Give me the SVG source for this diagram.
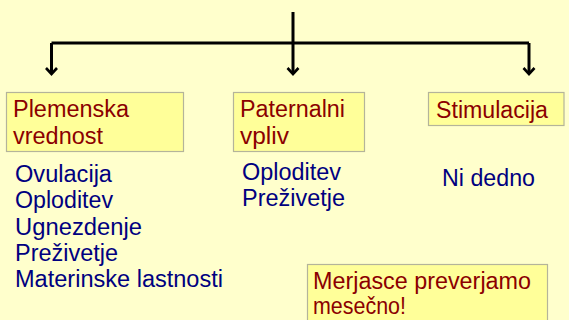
<svg xmlns="http://www.w3.org/2000/svg" width="569" height="320" viewBox="0 0 569 320">
<defs>
<marker id="arr" markerUnits="userSpaceOnUse" viewBox="0 0 14 14" refX="11" refY="7" markerWidth="14" markerHeight="14" orient="auto">
<path d="M5,1.5 L11,7 L5,12.5" fill="none" stroke="#000" stroke-width="2.6"/>
</marker>
<style>
.box{fill:#FFFF99;stroke:#B4B49A;stroke-width:1.2}
.t{font-family:"Liberation Sans",Arial,sans-serif;font-size:23px;fill:#8B0000}
.l{font-family:"Liberation Sans",Arial,sans-serif;font-size:23px;fill:#000080}
.c{fill:none;stroke:#000;stroke-width:3}
</style>
</defs>
<rect width="569" height="320" fill="#FFFFCC"/>
<g id="connectors">
<path class="c" d="M293,12 V43 M51.5,43 H529"/>
<path class="c" d="M51.5,43 V74" marker-end="url(#arr)"/>
<path class="c" d="M293,43 V74" marker-end="url(#arr)"/>
<path class="c" d="M529,43 V74" marker-end="url(#arr)"/>
</g>
<g id="plemenska">
<rect class="box" x="6.5" y="92.5" width="177" height="59"/>
<text class="t" x="13" y="117" textLength="116" lengthAdjust="spacingAndGlyphs">Plemenska</text>
<text class="t" x="13" y="144" textLength="90" lengthAdjust="spacingAndGlyphs">vrednost</text>
</g>
<g id="paternalni">
<rect class="box" x="233.5" y="92.5" width="131" height="59"/>
<text class="t" x="240" y="117" textLength="105" lengthAdjust="spacingAndGlyphs">Paternalni</text>
<text class="t" x="240" y="144" textLength="49" lengthAdjust="spacingAndGlyphs">vpliv</text>
</g>
<g id="stimulacija">
<rect class="box" x="428.5" y="92.5" width="135.5" height="33"/>
<text class="t" x="436" y="118" textLength="112" lengthAdjust="spacingAndGlyphs">Stimulacija</text>
</g>
<g id="list-plemenska">
<text class="l" x="15" y="182" textLength="97" lengthAdjust="spacingAndGlyphs">Ovulacija</text>
<text class="l" x="15" y="208" textLength="98" lengthAdjust="spacingAndGlyphs">Oploditev</text>
<text class="l" x="15" y="235" textLength="127" lengthAdjust="spacingAndGlyphs">Ugnezdenje</text>
<text class="l" x="15" y="261" textLength="103" lengthAdjust="spacingAndGlyphs">Preživetje</text>
<text class="l" x="15" y="287" textLength="208" lengthAdjust="spacingAndGlyphs">Materinske lastnosti</text>
</g>
<g id="list-paternalni">
<text class="l" x="242" y="180" textLength="99" lengthAdjust="spacingAndGlyphs">Oploditev</text>
<text class="l" x="242" y="206" textLength="103" lengthAdjust="spacingAndGlyphs">Preživetje</text>
</g>
<g id="list-stimulacija">
<text class="l" x="442" y="186" textLength="93" lengthAdjust="spacingAndGlyphs">Ni dedno</text>
</g>
<g id="merjasce">
<rect class="box" x="307.5" y="264.5" width="240" height="70"/>
<text class="t" x="313" y="289" textLength="218" lengthAdjust="spacingAndGlyphs">Merjasce preverjamo</text>
<text class="t" x="313" y="314" textLength="93" lengthAdjust="spacingAndGlyphs">mesečno!</text>
</g>
</svg>
